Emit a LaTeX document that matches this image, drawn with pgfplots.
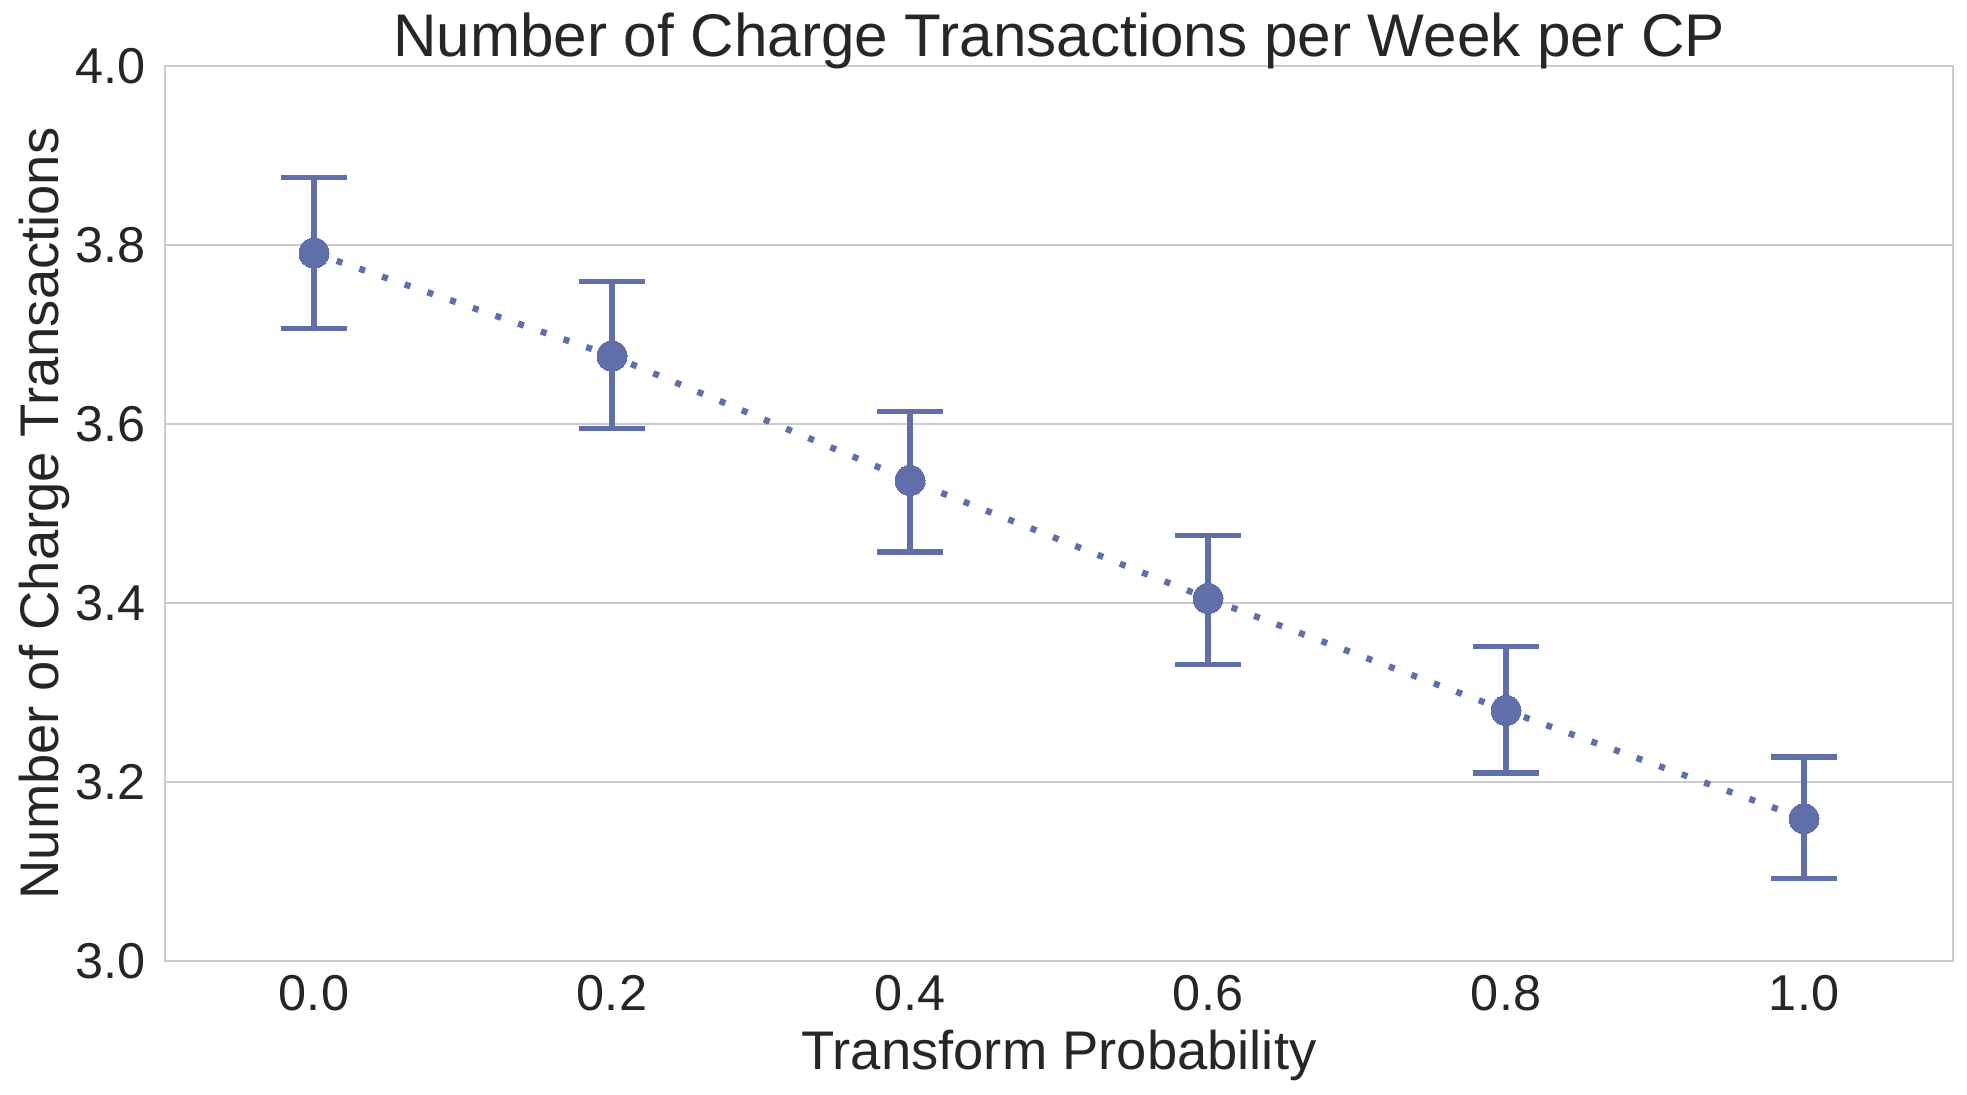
\documentclass[border=0pt]{standalone}
\usepackage{fontspec}
\setmainfont{Liberation Sans}
\usepackage{pgfplots}
\pgfplotsset{compat=1.18}
\definecolor{ptblue}{RGB}{96,111,170}
\definecolor{gridgray}{RGB}{204,204,204}
\definecolor{txt}{RGB}{38,38,38}
\begin{document}
\begin{tikzpicture}
\begin{axis}[
  name=ax,
  at={(0,0)}, anchor=south west,
  scale only axis,
  width=447pt, height=223.75pt,
  xmin=-0.5, xmax=5.5,
  ymin=3.0, ymax=4.0,
  xtick={0,1,2,3,4,5},
  xticklabels={0.0,0.2,0.4,0.6,0.8,1.0},
  ytick={3.0,3.2,3.4,3.6,3.8,4.0},
  yticklabel style={/pgf/number format/fixed, /pgf/number format/fixed zerofill, /pgf/number format/precision=1},
  /pgf/number format/assume math mode=true,
  major tick length=0pt,
  ymajorgrids,
  grid style={gridgray, line width=0.55pt},
  axis line style={gridgray, line width=0.6pt},
  tick label style={font=\fontsize{12.6pt}{14pt}\selectfont, text=txt},
  x tick label style={anchor=base, yshift=-12.25pt, inner sep=0pt},
  y tick label style={anchor=east, xshift=-4.75pt, inner sep=0pt},
  every axis title shift=0pt,
  title={Number of Charge Transactions per Week per CP},
  title style={at={([yshift=2.5pt]axis description cs:0.5,1)}, anchor=base, inner sep=0pt, font=\fontsize{15.05pt}{17pt}\selectfont, text=txt},
  xlabel={Transform Probability},
  xlabel style={at={([yshift=-27pt]axis description cs:0.5,0)}, anchor=base, inner sep=0pt, font=\fontsize{13.6pt}{16pt}\selectfont, text=txt},
  ylabel={Number of Charge Transactions},
  ylabel style={at={([xshift=-26.5pt]axis description cs:0,0.5)}, anchor=base, inner sep=0pt, font=\fontsize{13.6pt}{16pt}\selectfont, text=txt},
  clip=false,
]
\addplot[ptblue, line width=1.6pt, dash pattern=on 1.5pt off 4.5pt, mark=none]
  table[x=x, y=y] {
  x y
  0 3.791
  1 3.676
  2 3.537
  3 3.405
  4 3.280
  5 3.159
  };
\addplot[ptblue, line width=1.3pt, draw=none, mark=*, mark size=3.75pt,
  mark options={fill=ptblue, draw=ptblue, line width=0pt},
  error bars/.cd, y dir=both, y explicit,
  error bar style={line width=1.3pt, ptblue},
  error mark options={rotate=90, mark size=8.25pt, line width=1.3pt, ptblue}]
  table[x=x, y=y, y error plus=ep, y error minus=em] {
  x y ep em
  0 3.791 0.084 0.084
  1 3.676 0.083 0.081
  2 3.537 0.077 0.080
  3 3.405 0.070 0.074
  4 3.280 0.071 0.070
  5 3.159 0.069 0.067
  };
\end{axis}
\pgfresetboundingbox
\useasboundingbox ([xshift=-41.25pt, yshift=-33.25pt]ax.south west) rectangle ([xshift=3.5pt, yshift=16.5pt]ax.north east);
\end{tikzpicture}
\end{document}
